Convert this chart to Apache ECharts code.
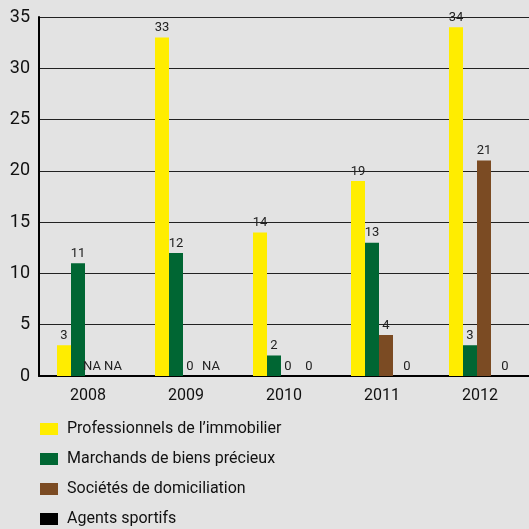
<!DOCTYPE html>
<html><head><meta charset="utf-8">
<script src="https://cdn.jsdelivr.net/npm/echarts@6/dist/echarts.min.js"></script>
<style>html,body{margin:0;padding:0;background:#e3e3e3}#c{width:529px;height:529px}</style>
</head><body><div id="c"></div>
<script>
var categories = ['2008', '2009', '2010', '2011', '2012'];
var seriesNames = ['Professionnels de l\u2019immobilier', 'Marchands de biens précieux', 'Sociétés de domiciliation', 'Agents sportifs'];
var immobilier = [3, 33, 14, 19, 34];
var biensPrecieux = [11, 12, 2, 13, 3];
var domiciliation = [null, 0, 0, 4, 21];   // null = NA
var agentsSportifs = [null, null, 0, 0, 0]; // null = NA
var yTicks = [0, 5, 10, 15, 20, 25, 30, 35];
var colors = ['#ffed00', '#006633', '#7b4b23', '#000000'];

function toData(arr) {
  return arr.map(function (v) {
    return { value: v === null ? 0 : v, na: v === null };
  });
}
var labelFont = 'Roboto, sans-serif';
function mkLabel() {
  return {
    show: true, position: 'top', distance: 3, color: '#222',
    fontSize: 13, fontFamily: labelFont,
    formatter: function (p) { return p.data.na ? 'NA' : String(p.data.value); }
  };
}
var empty = categories.map(function () { return null; });

var chart = echarts.init(document.getElementById('c'), null, { renderer: 'canvas' });
chart.setOption({
  backgroundColor: '#e3e3e3',
  animation: false,
  grid: { left: 39, width: 496, top: 17, bottom: 153, containLabel: false },
  legend: {
    orient: 'vertical', left: 40, top: 420, itemGap: 12, padding: 0, height: 109,
    itemWidth: 18, itemHeight: 12, icon: 'rect',
    data: seriesNames,
    textStyle: { fontSize: 16, lineHeight: 18, color: '#111', fontFamily: 'Roboto, sans-serif', padding: [0, 0, 0, 4] }
  },
  xAxis: [{
    type: 'category', data: categories,
    axisLine: { lineStyle: { color: '#000', width: 2 } },
    axisTick: { show: false },
    axisLabel: { color: '#111', fontSize: 16, margin: 12, fontFamily: 'Roboto, sans-serif' }
  }, {
    type: 'category', data: categories, show: false
  }],
  yAxis: {
    type: 'value', min: 0, max: 35, interval: 5,
    axisLine: { show: true, lineStyle: { color: '#000', width: 2 } },
    axisTick: { show: false },
    splitLine: { lineStyle: { color: '#222', width: 1 } },
    axisLabel: { color: '#111', fontSize: 18, margin: 9, fontFamily: 'Roboto, sans-serif' }
  },
  series: [
    { name: seriesNames[0], type: 'bar', xAxisIndex: 0, barWidth: 14, barGap: 0, itemStyle: { color: colors[0] }, label: mkLabel(), data: toData(immobilier) },
    { name: seriesNames[1], type: 'bar', xAxisIndex: 0, barWidth: 14, barGap: 0, itemStyle: { color: colors[1] }, label: mkLabel(), data: toData(biensPrecieux) },
    { name: seriesNames[2], type: 'bar', xAxisIndex: 0, barWidth: 14, barGap: 0, itemStyle: { color: colors[2] }, label: mkLabel(), data: toData(domiciliation) },
    { name: '_pad1', type: 'bar', xAxisIndex: 0, barWidth: 20, barGap: 0, data: empty },
    { name: '_pad2', type: 'bar', xAxisIndex: 1, barWidth: 50, barGap: 0, data: empty },
    { name: seriesNames[3], type: 'bar', xAxisIndex: 1, barWidth: 14, barGap: 0, itemStyle: { color: colors[3] }, label: mkLabel(), data: toData(agentsSportifs) }
  ]
});
</script></body></html>
